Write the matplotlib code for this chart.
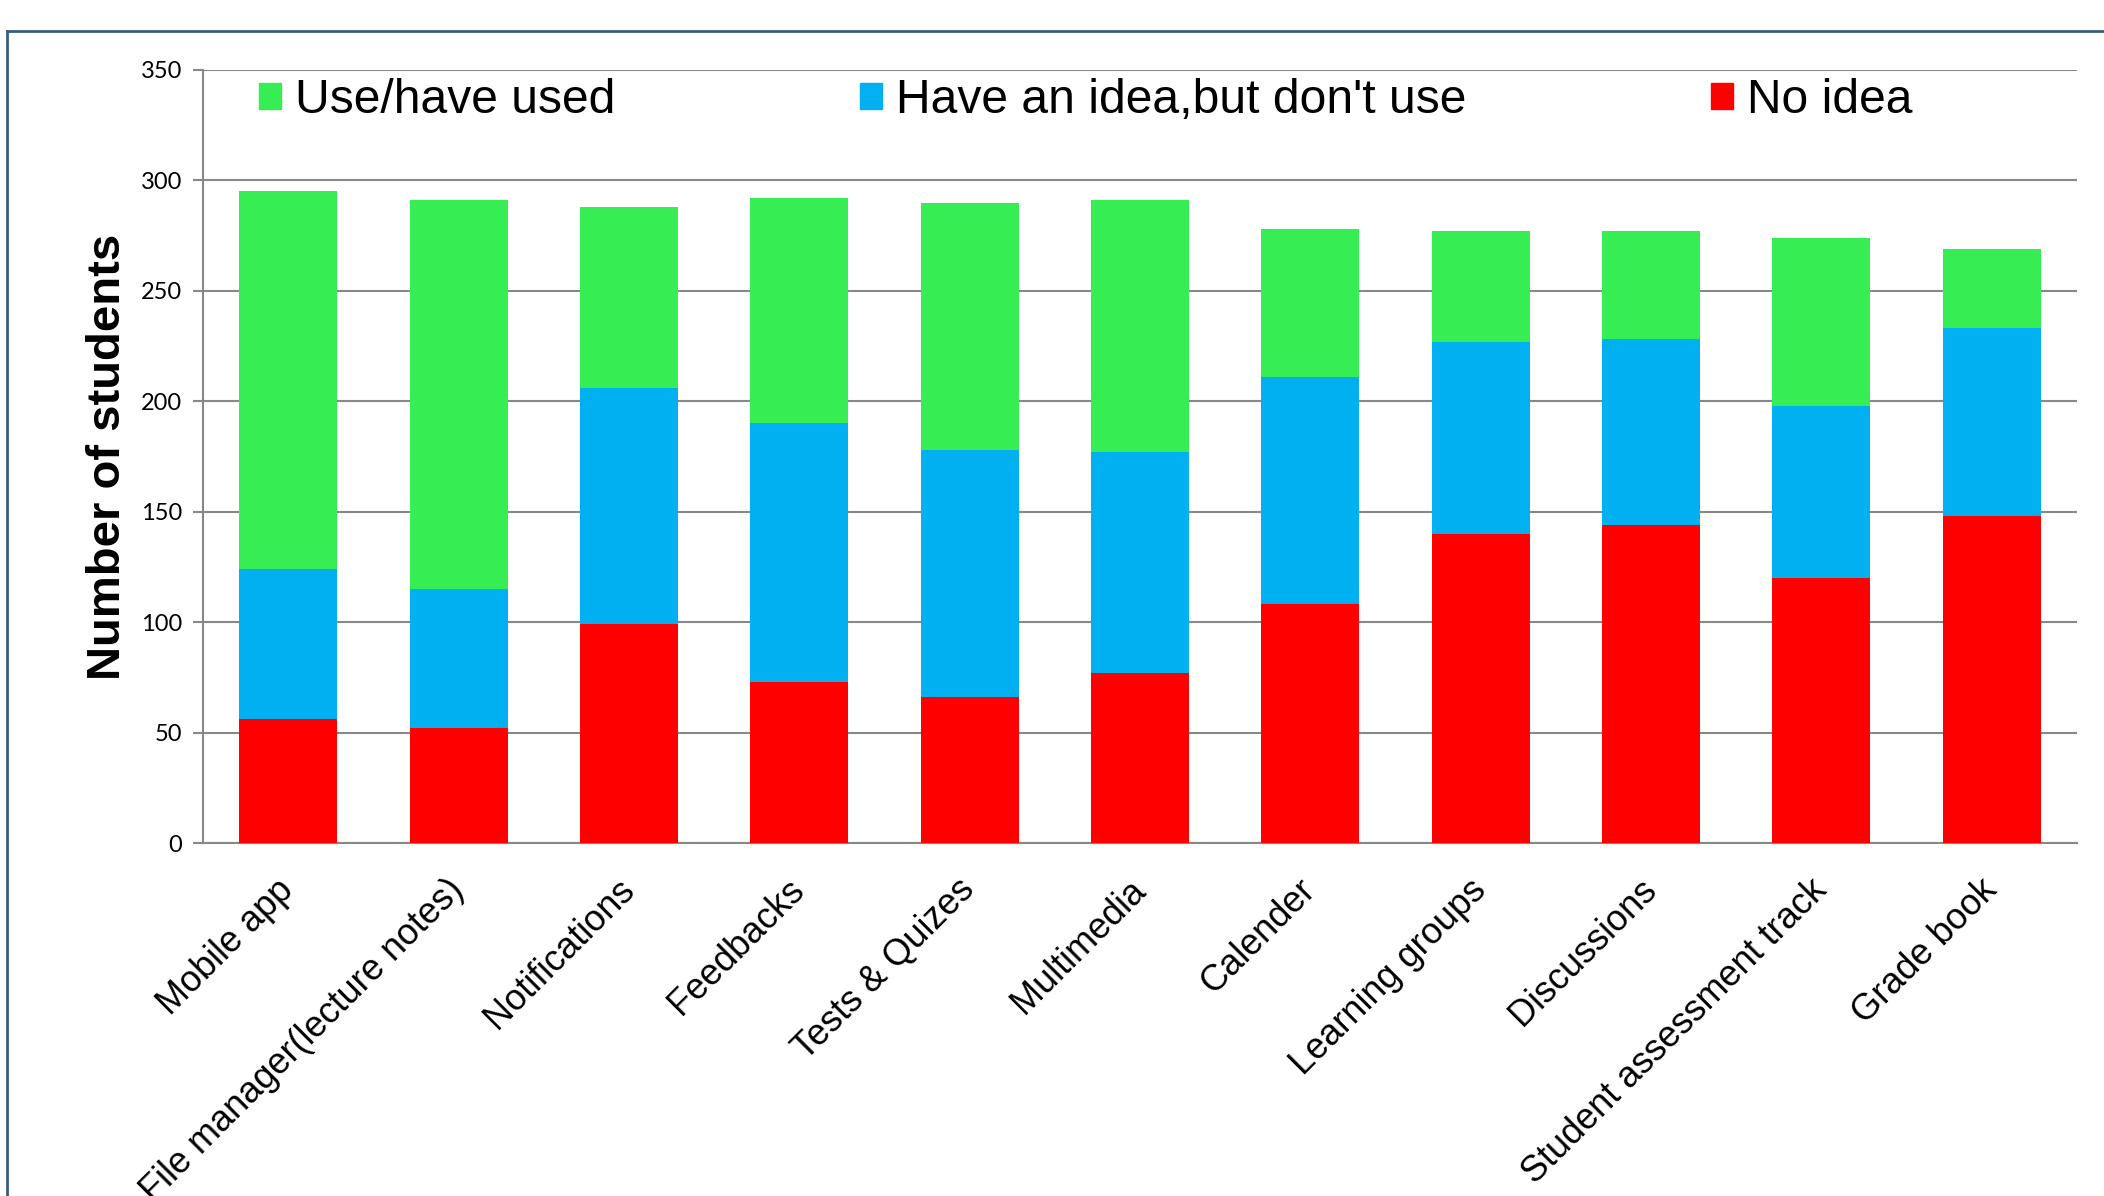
import numpy as np
import matplotlib
matplotlib.use("Agg")
import matplotlib.pyplot as plt
from matplotlib.lines import Line2D
from matplotlib.patches import Patch

categories = ["Mobile app", "File manager(lecture notes)", "Notifications", "Feedbacks",
              "Tests & Quizes", "Multimedia", "Calender", "Learning groups",
              "Discussions", "Student assessment track", "Grade book"]
no_idea = np.array([56, 52, 99, 73, 66, 77, 108, 140, 144, 120, 148])
have_idea = np.array([68, 63, 107, 117, 112, 100, 103, 87, 84, 78, 85])
use_used = np.array([171, 176, 82, 102, 112, 114, 67, 50, 49, 76, 36])
series_names = ["Use/have used", "Have an idea,but don't use", "No idea"]
yticks = [0, 50, 100, 150, 200, 250, 300, 350]

c_green = "#36ED54"
c_blue = "#00B0F0"
c_red = "#FF0000"
grid_c = "#888888"

plt.rcParams['font.family'] = ['Liberation Sans', 'DejaVu Sans']

W, H = 2104, 1196
fig = plt.figure(figsize=(W / 100, H / 100), dpi=100)
ax = fig.add_axes([203 / W, 1 - 843 / H, (2077 - 203) / W, (843 - 70) / H])

x = np.arange(len(categories))
bw = 0.575
ax.bar(x, no_idea, width=bw, color=c_red, zorder=3)
ax.bar(x, have_idea, width=bw, bottom=no_idea, color=c_blue, zorder=3)
ax.bar(x, use_used, width=bw, bottom=no_idea + have_idea, color=c_green, zorder=3)

ax.set_xlim(-0.5, len(categories) - 0.5)
ax.set_ylim(0, 350)
ax.set_yticks(yticks)
ax.set_yticklabels([str(v) for v in yticks], family=['Lato', 'DejaVu Sans'], fontsize=17)
ax.tick_params(axis='y', length=7, width=1.5, color=grid_c, pad=8)
ax.yaxis.grid(True, color=grid_c, linewidth=1.5, zorder=0)
ax.set_axisbelow(True)

ax.set_xticks(x)
ax.set_xticklabels(categories, rotation=45, ha='right', va='center',
                   rotation_mode='anchor', fontsize=26)
ax.tick_params(axis='x', length=0, pad=30)

for s in ['top', 'right']:
    ax.spines[s].set_visible(False)
for s in ['left', 'bottom']:
    ax.spines[s].set_color(grid_c)
    ax.spines[s].set_linewidth(1.5)

ax.set_ylabel("Number of students", fontsize=34, fontweight='bold')
ax.yaxis.set_label_coords(-0.039, 0.5)

handles = [Patch(color=c_green), Patch(color=c_blue), Patch(color=c_red)]
ax.legend(handles, series_names, loc='center left', bbox_to_anchor=(0.03, 0.96),
          ncol=3, frameon=False, fontsize=34.6, borderpad=0, borderaxespad=0,
          handlelength=0.46, handleheight=0.46, handletextpad=0.28,
          columnspacing=5.1)

# outer frame
x0, y0 = 7 / W, 1 - 31 / H
fig.add_artist(Line2D([x0, x0], [0, y0], color="#3A5A80", linewidth=2, transform=fig.transFigure))
fig.add_artist(Line2D([x0, 1], [y0, y0], color="#3A5A80", linewidth=2, transform=fig.transFigure))

fig.savefig("out.png", dpi=100)
